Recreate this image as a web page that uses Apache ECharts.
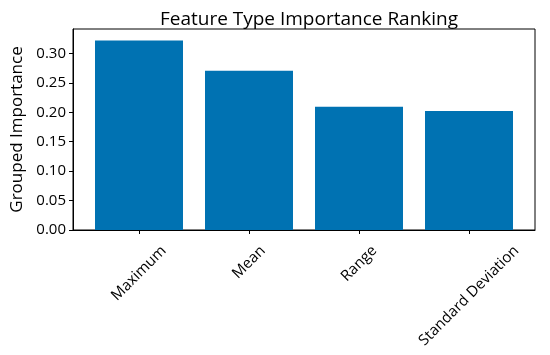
<!DOCTYPE html>
<html>
<head>
<meta charset="utf-8">
<script src="https://cdn.jsdelivr.net/npm/echarts@6/dist/echarts.min.js"></script>
<style>html,body{margin:0;padding:0;background:#fff;}#c{width:550px;height:355px;}</style>
</head>
<body>
<div id="c"></div>
<script>
const categories = ["Maximum", "Mean", "Range", "Standard Deviation"];
const importance = [0.322, 0.2705, 0.2094, 0.202];
const yTicks = [0.00, 0.05, 0.10, 0.15, 0.20, 0.25, 0.30];

const FONT = "Open Sans";
const XFS = 15;
const positions = categories.map((_, i) => i);

// measure label widths so rotated labels are centred under the tick (matplotlib style)
const ctx = document.createElement('canvas').getContext('2d');
ctx.font = XFS + 'px "' + FONT + '"';
const labelH = XFS * 1.2;

const xAxes = categories.map((name, i) => {
  const L = ctx.measureText(name).width;
  const margin = 12 + 0.3536 * (L + labelH);
  return {
    type: 'value', min: -0.6, max: 3.6, gridIndex: 0,
    position: 'bottom', offset: 0,
    splitLine: {show: false},
    axisLine: {show: i === 0, onZero: false, lineStyle: {color: '#000'}},
    axisTick: {show: i === 0, customValues: positions, length: 4, lineStyle: {color: '#000'}},
    axisLabel: {
      customValues: [i], rotate: 45, margin: margin,
      align: 'center', verticalAlign: 'middle',
      fontFamily: FONT, fontSize: XFS, color: '#000',
      formatter: v => categories[Math.round(v)]
    }
  };
});

const chart = echarts.init(document.getElementById('c'), null, {renderer: 'canvas'});
chart.setOption({
  animation: false,
  backgroundColor: '#ffffff',
  title: {
    text: 'Feature Type Importance Ranking',
    left: 304, top: 5, textAlign: 'center',
    textStyle: {fontFamily: FONT, fontSize: 19, fontWeight: 'normal', color: '#000'}
  },
  grid: {left: 73, right: 15, top: 29, bottom: 125, show: true, borderColor: '#000', borderWidth: 1,
         containLabel: false, outerBoundsMode: 'none'},
  xAxis: xAxes,
  yAxis: {
    type: 'value', min: 0, max: 0.3414,
    name: 'Grouped Importance', nameLocation: 'middle', nameGap: 47,
    nameTextStyle: {fontFamily: FONT, fontSize: 17, color: '#000'},
    splitLine: {show: false},
    axisLine: {show: true, onZero: false, lineStyle: {color: '#000'}},
    axisTick: {show: true, customValues: yTicks, length: 4, lineStyle: {color: '#000'}},
    axisLabel: {
      customValues: yTicks, margin: 7,
      fontFamily: FONT, fontSize: 15, color: '#000',
      formatter: v => v.toFixed(2)
    }
  },
  series: [{
    type: 'bar',
    xAxisIndex: 0,
    data: importance.map((v, i) => [i, v]),
    barWidth: 88,
    itemStyle: {color: '#0072b2'}
  }]
});
</script>
</body>
</html>
